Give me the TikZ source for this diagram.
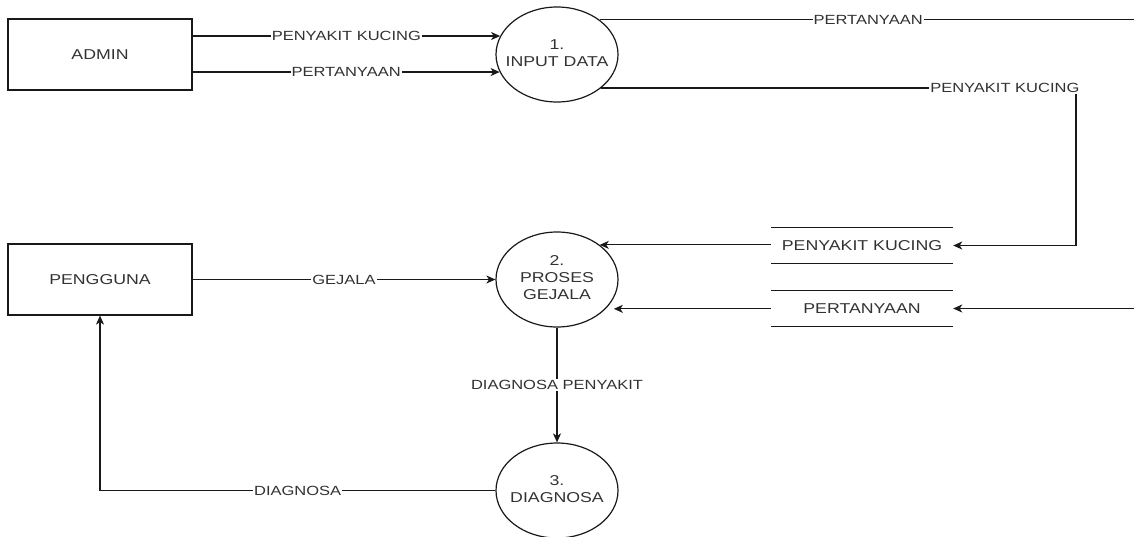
\documentclass[tikz,border=0pt]{standalone}
\usepackage{fontspec}
\setmainfont{Liberation Sans}[FakeStretch=1.24]
\usetikzlibrary{shapes.geometric, arrows.meta}
\definecolor{dfdline}{RGB}{25,25,25}
\definecolor{dfdtext}{RGB}{50,50,50}
% text of a process, kept out of the ellipse size
\newcommand{\proctext}[1]{\makebox[0pt]{\begin{tabular}{@{}c@{}}#1\end{tabular}}}

\begin{document}
\begin{tikzpicture}[x=1pt, y=-1pt,
  entity/.style={draw=dfdline, line width=1.2pt, rectangle, minimum width=184pt, minimum height=71pt, inner sep=0pt, text=dfdtext, font=\fontsize{14.3}{17}\selectfont},
  proc/.style={draw=dfdline, line width=1.2pt, ellipse, minimum width=122pt, minimum height=95pt, inner sep=0pt, text=dfdtext, font=\fontsize{14.3}{17}\selectfont},
  store/.style={minimum width=182pt, minimum height=35pt, inner sep=0pt, text=dfdtext, font=\fontsize{14.3}{17}\selectfont},
  flow/.style={draw=dfdline, line width=1.2pt, -{Stealth[length=9pt,width=8pt,inset=2.5pt]}},
  elabel/.style={fill=white, inner sep=1pt, text=dfdtext, font=\fontsize{13.3}{15}\selectfont}]
\useasboundingbox (0,0) rectangle (1134,536);
\clip (0,0) rectangle (1134,536);

% Entities
\node[entity] (admin) at (100,54.5) {ADMIN};
\node[entity] (pgn) at (100,279.5) {PENGGUNA};

% Processes
\node[proc] (in1) at (557,54.5) {\proctext{1.\\INPUT DATA}};
\node[proc] (pg2) at (557,279.5) {\proctext{2.\\PROSES\\GEJALA}};
\node[proc] (dg3) at (557,490.5) {\proctext{3.\\DIAGNOSA}};

% Data stores
\node[store] (sP) at (862,245.5) {PENYAKIT KUCING};
\node[store] (sQ) at (862,308.5) {PERTANYAAN};
\foreach \s in {sP,sQ}
  \draw[dfdline, line width=1.2pt] (\s.north west) -- (\s.north east) (\s.south west) -- (\s.south east);

% Bends
\coordinate (kcor) at (1076,0);
\coordinate (offr) at (1160,0);

% Admin to input
\draw[flow] (admin.east |- in1.162) -- node[elabel]{PENYAKIT KUCING} (in1.162);
\draw[flow] (admin.east |- in1.-163) -- node[elabel]{PERTANYAAN} (in1.-163);

% Input to stores
\draw[flow] (in1.39) -- node[elabel, pos=0.479]{PERTANYAAN} (in1.39 -| offr) |- (sQ.east);
\draw[flow] (in1.-37.5) -- node[elabel, pos=0.85]{PENYAKIT KUCING} (in1.-37.5 -| kcor) |- (sP.east);

% Stores to process
\draw[flow] (sP.west |- pg2.39) -- (pg2.39);
\draw[flow, shorten >=8pt] (sQ.west |- pg2.-31) -- (pg2.-31);

% User flows
\draw[flow] (pgn.east) -- node[elabel]{GEJALA} (pg2.west);
\draw[flow] (pg2.south) -- node[elabel]{DIAGNOSA PENYAKIT} (dg3.north);
\draw[flow] (dg3.west) -- node[elabel]{DIAGNOSA} (dg3.west -| pgn.south) -- (pgn.south);
\end{tikzpicture}
\end{document}
